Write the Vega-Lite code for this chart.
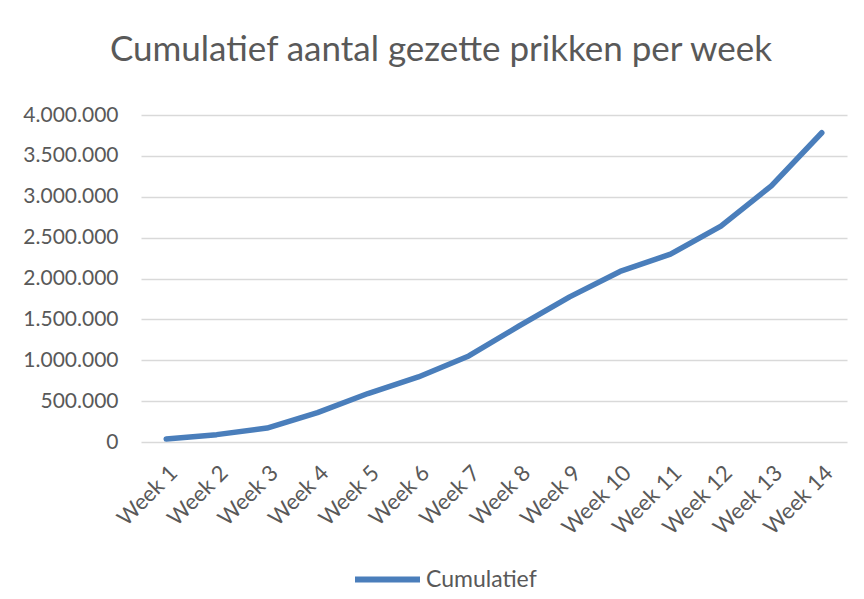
{
  "$schema": "https://vega.github.io/schema/vega-lite/v6.json",
  "autosize": "none",
  "width": 706,
  "height": 327,
  "padding": {"left": 141, "top": 115, "right": 17, "bottom": 157},
  "background": "#ffffff",
  "config": {
    "locale": {"number": {"decimal": ",", "thousands": ".", "grouping": [3], "currency": ["€", ""]}},
    "view": {"stroke": null},
    "font": "Lato"
  },
  "title": {
    "text": "Cumulatief aantal gezette prikken per week",
    "font": "Lato",
    "fontSize": 35,
    "fontWeight": "normal",
    "color": "#595959",
    "anchor": "middle",
    "dx": -53,
    "offset": 36
  },
  "data": {
    "values": [
      {"week": "Week 1", "n": 1, "serie": "Cumulatief", "waarde": 38000},
      {"week": "Week 2", "n": 2, "serie": "Cumulatief", "waarde": 90000},
      {"week": "Week 3", "n": 3, "serie": "Cumulatief", "waarde": 171000},
      {"week": "Week 4", "n": 4, "serie": "Cumulatief", "waarde": 360000},
      {"week": "Week 5", "n": 5, "serie": "Cumulatief", "waarde": 593000},
      {"week": "Week 6", "n": 6, "serie": "Cumulatief", "waarde": 796000},
      {"week": "Week 7", "n": 7, "serie": "Cumulatief", "waarde": 1053000},
      {"week": "Week 8", "n": 8, "serie": "Cumulatief", "waarde": 1420000},
      {"week": "Week 9", "n": 9, "serie": "Cumulatief", "waarde": 1775000},
      {"week": "Week 10", "n": 10, "serie": "Cumulatief", "waarde": 2086000},
      {"week": "Week 11", "n": 11, "serie": "Cumulatief", "waarde": 2298000},
      {"week": "Week 12", "n": 12, "serie": "Cumulatief", "waarde": 2641000},
      {"week": "Week 13", "n": 13, "serie": "Cumulatief", "waarde": 3134000},
      {"week": "Week 14", "n": 14, "serie": "Cumulatief", "waarde": 3783000}
    ]
  },
  "mark": {"type": "line", "strokeWidth": 5.5, "strokeCap": "round", "strokeJoin": "round"},
  "encoding": {
    "x": {
      "field": "week",
      "type": "ordinal",
      "sort": {"field": "n"},
      "scale": {"type": "point", "padding": 0.5},
      "axis": {
        "title": null,
        "labelAngle": -45,
        "labelFontSize": 22,
        "labelColor": "#595959",
        "labelFont": "Lato",
        "ticks": false,
        "domain": false,
        "labelPadding": 20,
        "grid": false
      }
    },
    "y": {
      "field": "waarde",
      "type": "quantitative",
      "scale": {"domain": [0, 4000000]},
      "axis": {
        "title": null,
        "values": [0, 500000, 1000000, 1500000, 2000000, 2500000, 3000000, 3500000, 4000000],
        "format": ",d",
        "labelFontSize": 21,
        "labelColor": "#595959",
        "labelFont": "Lato",
        "ticks": false,
        "domain": false,
        "labelPadding": 23,
        "gridColor": "#d9d9d9",
        "gridWidth": 1.3
      }
    },
    "color": {
      "field": "serie",
      "type": "nominal",
      "scale": {"range": ["#4a7ebb"]},
      "legend": {
        "title": null,
        "orient": "none",
        "legendX": 211,
        "legendY": 429,
        "symbolType": "stroke",
        "symbolSize": 4225,
        "symbolStrokeWidth": 6,
        "labelFontSize": 23,
        "labelColor": "#595959",
        "labelFont": "Lato",
        "labelOffset": 3
      }
    }
  }
}
